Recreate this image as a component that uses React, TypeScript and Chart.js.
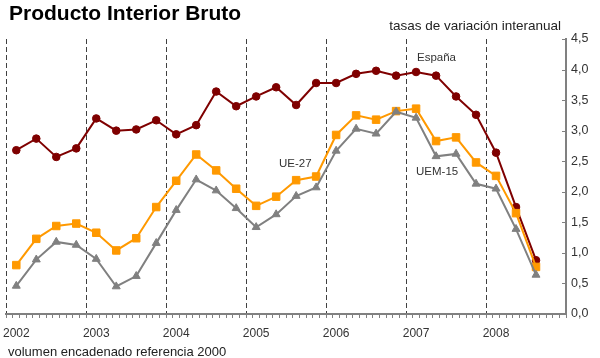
import React, { useEffect, useRef } from "react";
import { Chart, registerables } from "chart.js";

Chart.register(...registerables);

const years = ["2002", "2003", "2004", "2005", "2006", "2007", "2008"];
// quarterly values, 2002 Q1 .. 2008 Q3
const espana = [2.68, 2.87, 2.57, 2.71, 3.2, 3.0, 3.02, 3.17, 2.94, 3.09, 3.64, 3.4, 3.56, 3.71, 3.42, 3.78, 3.78, 3.93, 3.98, 3.9, 3.96, 3.9, 3.56, 3.26, 2.64, 1.75, 0.88];
const ue27 = [0.8, 1.23, 1.44, 1.48, 1.33, 1.04, 1.24, 1.75, 2.18, 2.61, 2.35, 2.05, 1.77, 1.92, 2.19, 2.25, 2.93, 3.25, 3.18, 3.32, 3.36, 2.83, 2.89, 2.48, 2.26, 1.65, 0.77];
const uem15 = [0.46, 0.89, 1.18, 1.13, 0.9, 0.45, 0.62, 1.16, 1.7, 2.2, 2.02, 1.73, 1.42, 1.63, 1.93, 2.07, 2.67, 3.03, 2.95, 3.31, 3.21, 2.58, 2.62, 2.13, 2.05, 1.39, 0.64];
const yTicks = [0, 0.5, 1, 1.5, 2, 2.5, 3, 3.5, 4, 4.5];

const MAROON = "#7f0000";
const ORANGE = "#ff9900";
const GRAY = "#808080";
const FONT = "'Liberation Sans', Arial, sans-serif";

// x in months from Jan 2002; each quarter point sits at the middle of its quarter
const toPoints = (arr: number[]) => arr.map((v, i) => ({ x: i * 3 + 1.5, y: v }));

const textPlugin = {
  id: "texts",
  afterDraw(chart: any) {
    const ctx = chart.ctx;
    const y = chart.scales.y;
    ctx.save();
    // inside tick marks on the right axis
    ctx.strokeStyle = GRAY;
    ctx.lineWidth = 1;
    yTicks.forEach((t) => {
      const py = Math.round(y.getPixelForValue(t)) + 0.5;
      ctx.beginPath();
      ctx.moveTo(y.left - 4, py);
      ctx.lineTo(y.left, py);
      ctx.stroke();
    });
    ctx.fillStyle = "#000";
    ctx.textBaseline = "alphabetic";
    ctx.textAlign = "left";
    ctx.font = `bold 21px ${FONT}`;
    ctx.fillText("Producto Interior Bruto", 9, 19.5);
    ctx.fillStyle = "#222";
    ctx.font = `13.5px ${FONT}`;
    ctx.textAlign = "right";
    ctx.fillText("tasas de variación interanual", 561, 30);
    ctx.textAlign = "left";
    ctx.font = `13px ${FONT}`;
    ctx.fillText("volumen encadenado referencia 2000", 8, 356);
    ctx.fillStyle = "#333";
    ctx.font = `11.5px ${FONT}`;
    ctx.fillText("España", 417, 61);
    ctx.fillText("UE-27", 279, 167);
    ctx.fillText("UEM-15", 416, 175);
    ctx.restore();
  },
};

export default function App() {
  const ref = useRef<HTMLCanvasElement | null>(null);
  useEffect(() => {
    if (!ref.current) return;
    const chart = new Chart(ref.current, {
      type: "line",
      data: {
        datasets: [
          {
            label: "UEM-15",
            data: toPoints(uem15),
            borderColor: GRAY,
            backgroundColor: GRAY,
            borderWidth: 2,
            pointStyle: "triangle",
            pointRadius: 4.6,
            pointBorderWidth: 1,
            tension: 0,
            order: 0,
          },
          {
            label: "UE-27",
            data: toPoints(ue27),
            borderColor: ORANGE,
            backgroundColor: ORANGE,
            borderWidth: 2,
            pointStyle: "rect",
            pointRadius: 5.3,
            pointBorderWidth: 1,
            tension: 0,
            order: 1,
          },
          {
            label: "España",
            data: toPoints(espana),
            borderColor: MAROON,
            backgroundColor: MAROON,
            borderWidth: 2,
            pointStyle: "circle",
            pointRadius: 3.8,
            pointBorderWidth: 1,
            tension: 0,
            order: 2,
          },
        ],
      },
      options: {
        animation: false,
        responsive: false,
        events: [],
        clip: false as any,
        layout: { padding: { left: 6, top: 39, right: 0, bottom: 0 } },
        plugins: { legend: { display: false }, tooltip: { enabled: false }, title: { display: false } },
        scales: {
          x: {
            type: "linear",
            min: 0,
            max: 84,
            afterFit: (s: any) => {
              s.height = 44;
              s.paddingLeft = 0;
              s.paddingRight = 0;
            },
            ticks: {
              stepSize: 1,
              maxTicksLimit: 100,
              autoSkip: false,
              maxRotation: 0,
              minRotation: 0,
              labelOffset: 10,
              padding: 8,
              color: "#333",
              font: { family: FONT, size: 12 },
              callback: (v: any) => {
                const n = Math.round(Number(v));
                return n % 12 === 0 && n < 84 ? years[n / 12] : "";
              },
            },
            grid: {
              color: (c: any) => {
                const n = c.tick ? Math.round(c.tick.value) : -1;
                return n % 12 === 0 && n < 84 ? "#404040" : "rgba(0,0,0,0)";
              },
              lineWidth: 1,
              drawTicks: true,
              tickLength: 4,
              tickColor: GRAY,
              tickWidth: 1,
            },
            border: { display: true, color: GRAY, width: 2, dash: [5, 3] },
          },
          y: {
            type: "linear",
            position: "right",
            min: 0,
            max: 4.5,
            afterFit: (s: any) => {
              s.width = 34;
              s.paddingTop = 0;
              s.paddingBottom = 0;
            },
            ticks: {
              stepSize: 0.5,
              padding: 5,
              color: "#333",
              font: { family: FONT, size: 12.5 },
              callback: (v: any) => Number(v).toFixed(1).replace(".", ","),
            },
            grid: { drawOnChartArea: false, drawTicks: false },
            border: { display: true, color: GRAY, width: 2 },
          },
        },
      },
      plugins: [textPlugin],
    } as any);
    return () => chart.destroy();
  }, []);
  return (
    <div style={{ position: "absolute", left: 0, top: 0, width: 600, height: 358, background: "#fff" }}>
      <canvas ref={ref} width={600} height={358} style={{ display: "block" }} />
    </div>
  );
}
